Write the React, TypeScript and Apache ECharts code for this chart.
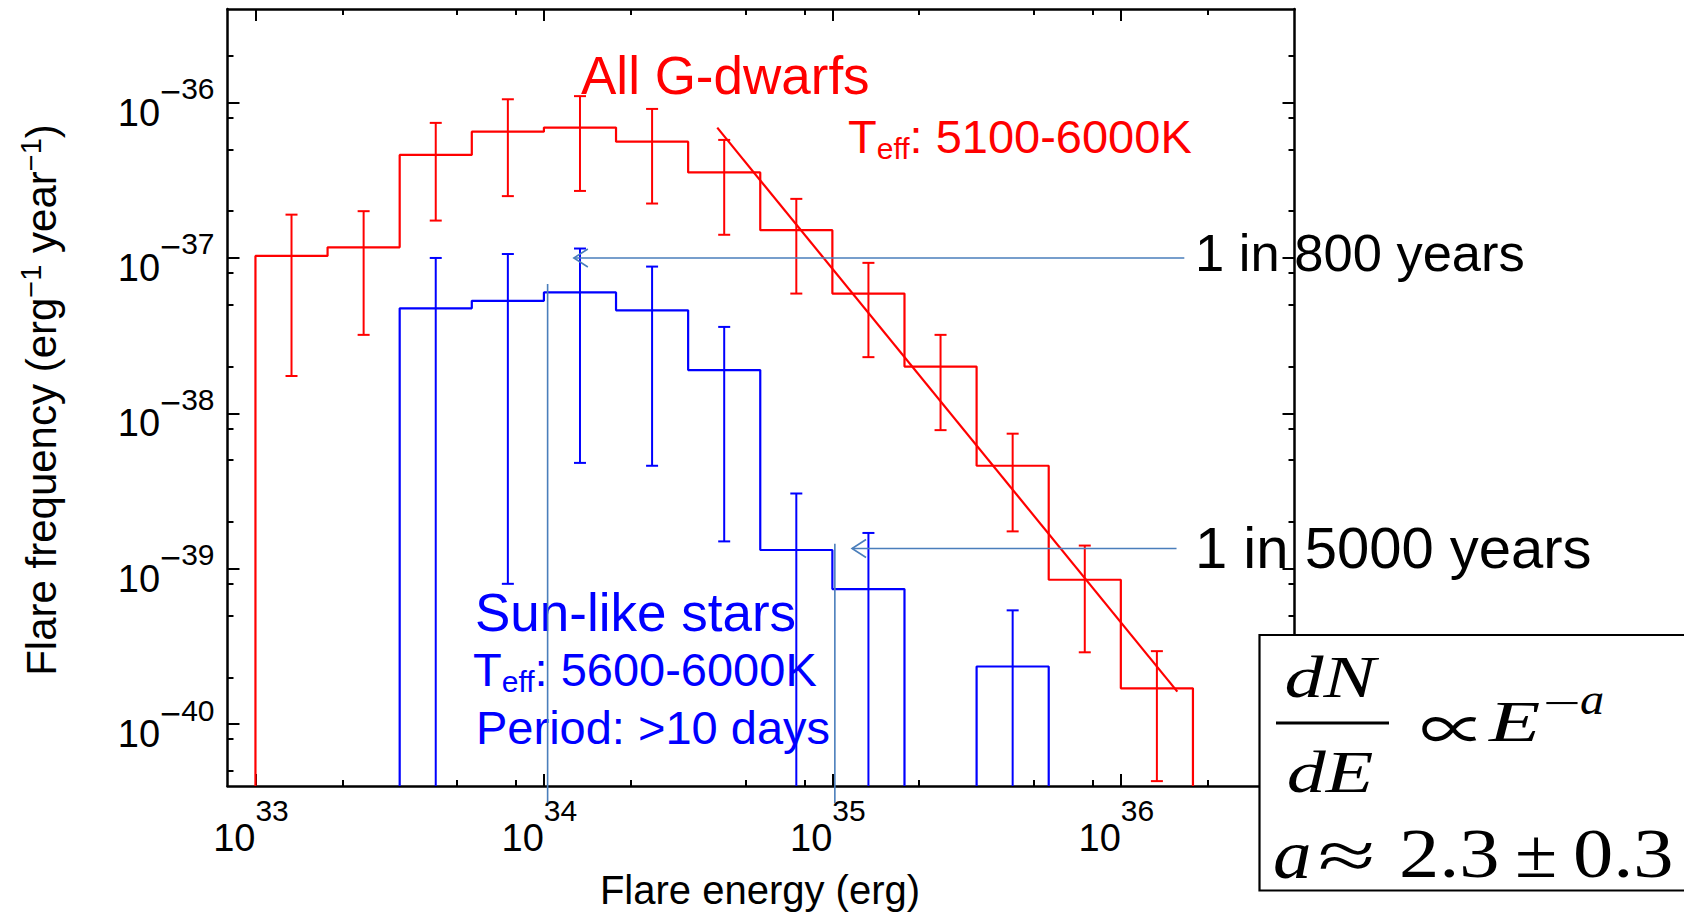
import React, { useEffect, useRef } from "react";
import * as echarts from "echarts";

// ---------- data ----------
const energyBinEdgesLog10 = [33.0, 33.25, 33.5, 33.75, 34.0, 34.25, 34.5, 34.75, 35.0, 35.25, 35.5, 35.75, 36.0, 36.25];

const gDwarfFreq = [1.03e-37, 1.17e-37, 4.6e-37, 6.5e-37, 6.9e-37, 5.6e-37, 3.55e-37, 1.51e-37, 5.9e-38, 2.0e-38, 4.6e-39, 8.5e-40, 1.7e-40];
const gDwarfErrHigh = [1.9e-37, 2.0e-37, 7.4e-37, 1.05e-36, 1.1e-36, 9.1e-37, 5.75e-37, 2.4e-37, 9.3e-38, 3.2e-38, 7.4e-39, 1.41e-39, 2.95e-40];
const gDwarfErrLow = [1.74e-38, 3.2e-38, 1.74e-37, 2.5e-37, 2.7e-37, 2.24e-37, 1.41e-37, 5.9e-38, 2.3e-38, 7.8e-39, 1.74e-39, 2.9e-40, 4.3e-41];

// null = no flares in that bin; low error 0 = error bar reaches below the axis
const sunLikeFreq = [null, null, 4.74e-38, 5.3e-38, 6.0e-38, 4.6e-38, 1.9e-38, 1.32e-39, 7.4e-40, null, 2.35e-40, null, null];
const sunLikeErrHigh = [null, null, 1.0e-37, 1.06e-37, 1.15e-37, 8.8e-38, 3.6e-38, 3.05e-39, 1.7e-39, null, 5.4e-40, null, null];
const sunLikeErrLow = [null, null, 0, 8.0e-40, 4.8e-39, 4.6e-39, 1.5e-39, 0, 0, null, 0, null, null];

// power-law fit end points
const fitEnergy = [3.99e34, 1.57e36];
const fitFreq = [6.9e-37, 1.62e-40];

// "1 in N years" arrows
const arrowStartEnergy = [1.66e36, 1.56e36];
const arrowTipEnergy = [1.27e34, 1.17e35];
const arrowFreq = [1.0e-37, 1.35e-39];

// vertical guide lines
const guideEnergy = [1.03e34, 1.02e35];
const guideTopFreq = [6.8e-38, 1.45e-39];
const guideBottomFreq = 3.1e-41;

// axes
const X_MIN = 8e32;
const X_MAX = 4e36;
const Y_MIN = 4e-41;
const Y_MAX = 4e-36;
const majorXTicks = [1e33, 1e34, 1e35, 1e36];
const majorYTicks = [1e-40, 1e-39, 1e-38, 1e-37, 1e-36];
const minorMantissas = [2, 5, 8];

// ---------- helpers ----------
const SANS = "'Liberation Sans', Arial, Helvetica, sans-serif";
const SERIF = "'Liberation Serif', 'Times New Roman', 'DejaVu Serif', serif";
const RED = "#ff0000";
const BLUE = "#0000ff";
const GUIDE = "#4a7ebb";

// the frequency axis works in log10 units (ECharts' log scale rounds values this small to 0)
const lg = (v: number) => Math.log10(v);
const LY_MIN = lg(Y_MIN);
const LY_MAX = lg(Y_MAX);

function minorTicks(expLo: number, expHi: number, lo: number, hi: number) {
  const out: number[] = [];
  for (let e = expLo; e <= expHi; e++) {
    for (const m of minorMantissas) {
      const v = Number(m + "e" + e);
      if (v > lo && v < hi) out.push(v);
    }
  }
  return out;
}
const minorXTicks = minorTicks(32, 36, X_MIN, X_MAX);
const minorYTicks = minorTicks(-41, -36, Y_MIN, Y_MAX);

function stepRuns(values: (number | null)[]) {
  const runs: number[][][] = [];
  let cur: number[][] | null = null;
  values.forEach((v, i) => {
    const x0 = Math.pow(10, energyBinEdgesLog10[i]);
    const x1 = Math.pow(10, energyBinEdgesLog10[i + 1]);
    if (v == null) {
      if (cur) {
        cur.push([x0, LY_MIN]);
        runs.push(cur);
        cur = null;
      }
      return;
    }
    if (!cur) cur = [[x0, LY_MIN]];
    cur.push([x0, lg(v)], [x1, lg(v)]);
  });
  if (cur) {
    (cur as number[][]).push([Math.pow(10, energyBinEdgesLog10[values.length]), LY_MIN]);
    runs.push(cur);
  }
  return runs;
}

function histSeries(values: (number | null)[], color: string) {
  return stepRuns(values).map((run) => ({
    type: "line",
    data: run,
    symbol: "none",
    showSymbol: false,
    silent: true,
    z: 3,
    lineStyle: { color, width: 2.2 },
  }));
}

function errorSeries(lows: (number | null)[], highs: (number | null)[], color: string) {
  const data: number[][] = [];
  highs.forEach((hi, i) => {
    if (hi == null) return;
    const center = Math.pow(10, (energyBinEdgesLog10[i] + energyBinEdgesLog10[i + 1]) / 2);
    const lo = lows[i] as number;
    data.push([center, lo > 0 ? lg(lo) : LY_MIN, lg(hi), lo > 0 ? 1 : 0]);
  });
  return {
    type: "custom",
    data,
    silent: true,
    z: 4,
    encode: { x: 0, y: [1, 2] },
    renderItem: (_p: any, api: any) => {
      const x = api.value(0);
      const pLo = api.coord([x, api.value(1)]);
      const pHi = api.coord([x, api.value(2)]);
      const hw = 6;
      const st = { stroke: color, lineWidth: 2 };
      const children: any[] = [
        { type: "line", shape: { x1: pLo[0], y1: pLo[1], x2: pHi[0], y2: pHi[1] }, style: st },
        { type: "line", shape: { x1: pHi[0] - hw, y1: pHi[1], x2: pHi[0] + hw, y2: pHi[1] }, style: st },
      ];
      if (api.value(3) === 1) {
        children.push({ type: "line", shape: { x1: pLo[0] - hw, y1: pLo[1], x2: pLo[0] + hw, y2: pLo[1] }, style: st });
      }
      return { type: "group", children };
    },
  };
}

const guideData: number[][] = [];
guideEnergy.forEach((e, i) => guideData.push([e, lg(guideTopFreq[i]), e, lg(guideBottomFreq), 0]));
arrowFreq.forEach((f, i) => guideData.push([arrowStartEnergy[i], lg(f), arrowTipEnergy[i], lg(f), 1]));

const guideSeries = {
  type: "custom",
  data: guideData,
  silent: true,
  clip: false,
  z: 5,
  encode: { x: [0, 2], y: [1, 3] },
  renderItem: (_p: any, api: any) => {
    const a = api.coord([api.value(0), api.value(1)]);
    const b = api.coord([api.value(2), api.value(3)]);
    const st = { stroke: GUIDE, lineWidth: 1.6, fill: "none" };
    const children: any[] = [{ type: "line", shape: { x1: a[0], y1: a[1], x2: b[0], y2: b[1] }, style: st }];
    if (api.value(4) === 1) {
      children.push({
        type: "polyline",
        shape: { points: [[b[0] + 14, b[1] - 9], [b[0], b[1]], [b[0] + 14, b[1] + 9]] },
        style: st,
      });
    }
    return { type: "group", children };
  },
};

const frameLine = { show: true, onZero: false, lineStyle: { color: "#000", width: 2.5 } };

// tokens are drawn against the top / bottom of the label line, so the line height sets the superscript lift
const xRich = {
  b: { fontSize: 38, fontFamily: SANS, color: "#000", lineHeight: 62, verticalAlign: "bottom" },
  s: { fontSize: 30, fontFamily: SANS, color: "#000", lineHeight: 30, padding: [0, 9, 0, 0], verticalAlign: "top" },
};
const yRich = {
  b: { fontSize: 38, fontFamily: SANS, color: "#000", lineHeight: 58, verticalAlign: "bottom" },
  m: { fontSize: 36, fontFamily: SANS, color: "#000", lineHeight: 36, verticalAlign: "top" },
  s: { fontSize: 30, fontFamily: SANS, color: "#000", lineHeight: 30, verticalAlign: "top" },
};

function xAxisDef(position: string, ticks: number[], len: number, line: boolean, label: boolean) {
  return {
    type: "log",
    logBase: 10,
    min: X_MIN,
    max: X_MAX,
    position,
    axisLine: line ? frameLine : { show: false },
    axisTick: { show: true, inside: true, length: len, customValues: ticks, lineStyle: { color: "#000", width: 2 } },
    axisLabel: label
      ? {
          show: true,
          customValues: majorXTicks,
          margin: 9,
          formatter: (v: number) => "{b|10}{s|" + Math.round(Math.log10(v)) + "}",
          rich: xRich,
        }
      : { show: false },
    splitLine: { show: false },
    minorTick: { show: false },
  };
}

function yAxisDef(position: string, ticks: number[], len: number, line: boolean, label: boolean) {
  return {
    type: "value",
    min: LY_MIN,
    max: LY_MAX,
    position,
    axisLine: line ? frameLine : { show: false },
    axisTick: { show: true, inside: true, length: len, customValues: ticks.map(lg), lineStyle: { color: "#000", width: 2 } },
    axisLabel: label
      ? {
          show: true,
          customValues: majorYTicks.map(lg),
          margin: 13,
          formatter: (v: number) => "{b|10}{m|\u2212}{s|" + Math.round(-v) + "}",
          rich: yRich,
        }
      : { show: false },
    splitLine: { show: false },
    minorTick: { show: false },
  };
}

const teffRich = (color: string, size: number) => ({
  t: { fontSize: size, fontFamily: SANS, fill: color, lineHeight: 50, verticalAlign: "top" },
  sub: { fontSize: 30, fontFamily: SANS, fill: color, lineHeight: 32, padding: [25, 0, 0, 0], verticalAlign: "bottom" },
});

const supRich = {
  b: { fontSize: 42, fontFamily: SANS, fill: "#000", lineHeight: 46, padding: [12, 0, 0, 0], verticalAlign: "bottom" },
  s: { fontSize: 29, fontFamily: SANS, fill: "#000", lineHeight: 32, verticalAlign: "top" },
};

function txt(x: number, y: number, text: string, size: number, color: string, extra: any = {}) {
  return {
    type: "text",
    x,
    y,
    z: 1,
    silent: true,
    ...extra,
    style: {
      text,
      fill: color,
      fontSize: size,
      fontFamily: SANS,
      align: "left",
      verticalAlign: "middle",
      ...(extra.style || {}),
    },
  };
}

function serif(x: number, y: number, text: string, size: number, italic: boolean, scaleX: number, align = "left", family = SERIF) {
  return {
    type: "text",
    x,
    y,
    z: 11,
    scaleX,
    silent: true,
    style: {
      text,
      fill: "#000",
      fontSize: size,
      fontFamily: family,
      fontStyle: italic ? "italic" : "normal",
      align,
      verticalAlign: "middle",
    },
  };
}

const option: any = {
  animation: false,
  backgroundColor: "#ffffff",
  grid: { left: 227.5, top: 9, width: 1067, height: 777, show: false },
  xAxis: [
    xAxisDef("bottom", majorXTicks, 12, true, true),
    xAxisDef("bottom", minorXTicks, 6, false, false),
    xAxisDef("top", majorXTicks, 12, true, false),
    xAxisDef("top", minorXTicks, 6, false, false),
  ],
  yAxis: [
    yAxisDef("left", majorYTicks, 12, true, true),
    yAxisDef("left", minorYTicks, 6, false, false),
    yAxisDef("right", majorYTicks, 12, true, false),
    yAxisDef("right", minorYTicks, 6, false, false),
  ],
  series: [
    ...histSeries(gDwarfFreq, RED),
    ...histSeries(sunLikeFreq, BLUE),
    errorSeries(gDwarfErrLow, gDwarfErrHigh, RED),
    errorSeries(sunLikeErrLow, sunLikeErrHigh, BLUE),
    {
      type: "line",
      data: fitEnergy.map((e, i) => [e, lg(fitFreq[i])]),
      symbol: "none",
      silent: true,
      z: 3,
      lineStyle: { color: RED, width: 2.2 },
    },
    guideSeries,
  ],
  graphic: [
    txt(581, 75, "All G-dwarfs", 53, RED),
    {
      type: "text", x: 848, y: 113, z: 1, silent: true,
      style: { text: "{t|T}{sub|eff}{t|: 5100-6000K}", align: "left", verticalAlign: "top", rich: teffRich(RED, 47) },
    },
    txt(475, 612, "Sun-like stars", 53, BLUE),
    {
      type: "text", x: 473, y: 646, z: 1, silent: true,
      style: { text: "{t|T}{sub|eff}{t|: 5600-6000K}", align: "left", verticalAlign: "top", rich: teffRich(BLUE, 47) },
    },
    txt(476, 727, "Period: >10 days", 47, BLUE),
    txt(1195, 252, "1 in 800 years", 52.5, "#000"),
    txt(1195, 547, "1 in 5000 years", 58, "#000"),
    txt(760, 890, "Flare energy (erg)", 40, "#000", { style: { align: "center" } }),
    {
      type: "text", x: 39, y: 400, z: 1, rotation: Math.PI / 2, silent: true,
      style: {
        text: "{b|Flare frequency (erg}{s|\u22121}{b| year}{s|\u22121}{b|)}",
        align: "center",
        verticalAlign: "middle",
        rich: supRich,
      },
    },
    // formula box
    {
      type: "rect", z: 10, silent: true,
      shape: { x: 1259.5, y: 635, width: 500, height: 255.5 },
      style: { fill: "#fff", stroke: "#000", lineWidth: 2.2 },
    },
    serif(1330, 677, "dN", 60, true, 1.3, "center"),
    {
      type: "line", z: 11, silent: true,
      shape: { x1: 1276, y1: 723, x2: 1389, y2: 723 },
      style: { stroke: "#000", lineWidth: 3 },
    },
    serif(1330, 772, "dE", 60, true, 1.3, "center"),
    serif(1453, 726, "\u221D", 60, false, 1.1, "center", "'Noto Sans CJK JP', 'DejaVu Sans', sans-serif"),
    serif(1489, 722, "E", 58, true, 1.45),
    serif(1543, 703, "\u2212", 42, false, 1.6),
    serif(1580, 699, "a", 44, true, 1.1),
    serif(1273, 854, "a", 70, true, 1.1),
    serif(1346.5, 855, "\u2248", 70, false, 1.5, "center"),
    serif(1399, 853, "2.3", 70, false, 1.15),
    serif(1536, 853, "\u00B1", 70, false, 1.1, "center"),
    serif(1573, 853, "0.3", 70, false, 1.15),
  ],
};

export default function App() {
  const ref = useRef<HTMLDivElement>(null);
  useEffect(() => {
    const chart = echarts.init(ref.current!, null, { renderer: "svg" });
    chart.setOption(option);
    return () => chart.dispose();
  }, []);
  return (
    <div
      ref={ref}
      style={{ position: "absolute", left: 0, top: 0, width: 1684, height: 912, background: "#fff" }}
    />
  );
}
